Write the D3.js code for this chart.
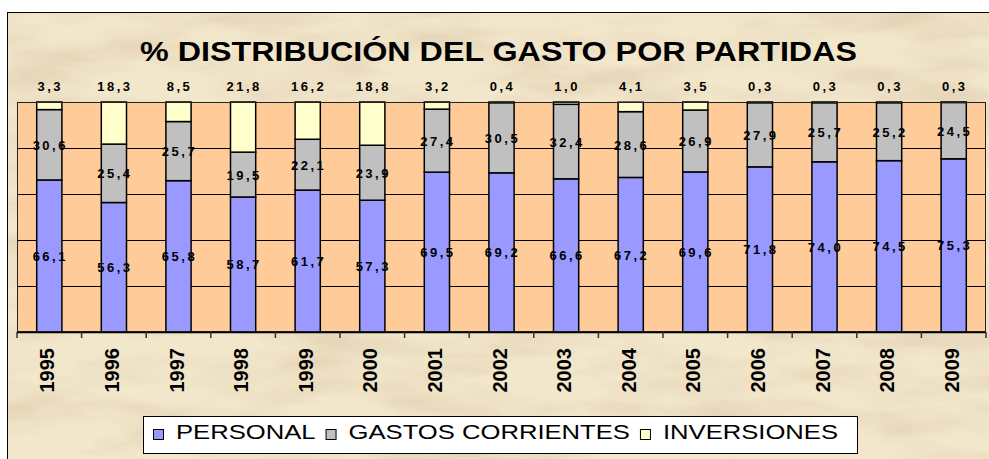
<!DOCTYPE html>
<html>
<head>
<meta charset="utf-8">
<script src="https://cdn.jsdelivr.net/npm/d3@7"></script>
<style>
  body { margin: 0; background: #fff; }
  svg { display: block; }
  text { font-family: Arial, "Liberation Sans", sans-serif; }
</style>
</head>
<body>
<div id="chart"></div>
<script>
const years = ["1995","1996","1997","1998","1999","2000","2001","2002","2003","2004","2005","2006","2007","2008","2009"];
const personal = [66.1, 56.3, 65.8, 58.7, 61.7, 57.3, 69.5, 69.2, 66.6, 67.2, 69.6, 71.8, 74.0, 74.5, 75.3];
const gastos = [30.6, 25.4, 25.7, 19.5, 22.1, 23.9, 27.4, 30.5, 32.4, 28.6, 26.9, 27.9, 25.7, 25.2, 24.5];
const inversiones = [3.3, 18.3, 8.5, 21.8, 16.2, 18.8, 3.2, 0.4, 1.0, 4.1, 3.5, 0.3, 0.3, 0.3, 0.3];
const seriesNames = ["PERSONAL", "GASTOS CORRIENTES", "INVERSIONES"];
const yTicks = [0, 20, 40, 60, 80, 100];

const colors = ["#9999FF", "#C0C0C0", "#FFFFCC"];
const width = 989, height = 459;
const plot = {left: 17, right: 986, top: 102, bottom: 332};
const stretch = 1.22; // the original picture is widened horizontally

function fmt(v) { return d3.format(".1f")(v).replace(".", ","); }

const svg = d3.select("#chart").append("svg")
    .attr("width", width)
    .attr("height", height);

// parchment background
const defs = svg.append("defs");
const filt = defs.append("filter").attr("id", "parch")
    .attr("x", 0).attr("y", 0).attr("width", 1).attr("height", 1);
filt.append("feTurbulence")
    .attr("type", "fractalNoise")
    .attr("baseFrequency", "0.008 0.03")
    .attr("numOctaves", 4)
    .attr("seed", 7);
filt.append("feColorMatrix")
    .attr("type", "matrix")
    .attr("values", "0 0 0 0 0.76  0 0 0 0 0.62  0 0 0 0 0.44  1.8 0 0 0 -0.72");

svg.append("rect")
    .attr("x", 7.5).attr("y", 12.5)
    .attr("width", width + 10).attr("height", height)
    .attr("fill", "#F2E7CB")
    .attr("stroke", "#000").attr("stroke-width", 1);
svg.append("rect")
    .attr("x", 8).attr("y", 13)
    .attr("width", width).attr("height", height)
    .attr("filter", "url(#parch)");

// title
svg.append("text")
    .attr("x", 498.5)
    .attr("y", 61)
    .attr("text-anchor", "middle")
    .attr("font-size", 27)
    .attr("font-weight", "bold")
    .attr("textLength", 717)
    .attr("lengthAdjust", "spacingAndGlyphs")
    .text("% DISTRIBUCIÓN DEL GASTO POR PARTIDAS");

const x = d3.scaleBand()
    .domain(years)
    .range([plot.left, plot.right])
    .padding(0);

const y = d3.scaleLinear()
    .domain([0, 100])
    .range([plot.bottom, plot.top]);

// plot area
svg.append("rect")
    .attr("x", plot.left).attr("y", plot.top)
    .attr("width", plot.right - plot.left)
    .attr("height", plot.bottom - plot.top)
    .attr("fill", "#FFCC99");

// gridlines
svg.append("g")
    .selectAll("line")
    .data(yTicks.slice(1))
    .join("line")
    .attr("x1", plot.left).attr("x2", plot.right)
    .attr("y1", d => Math.round(y(d)) + 0.5)
    .attr("y2", d => Math.round(y(d)) + 0.5)
    .attr("stroke", "#000")
    .attr("stroke-width", 1);

// stacked bars
const rows = years.map((yr, i) => ({year: yr, p: personal[i], g: gastos[i], v: inversiones[i]}));
const stack = d3.stack().keys(["p", "g", "v"]);
const layers = stack(rows);
const barW = x.bandwidth() * 0.39;

svg.append("g")
    .selectAll("g")
    .data(layers)
    .join("g")
    .attr("fill", (d, i) => colors[i])
    .selectAll("rect")
    .data(d => d)
    .join("rect")
    .attr("x", d => x(d.data.year) + (x.bandwidth() - barW) / 2)
    .attr("y", d => y(Math.min(d[1], 100)))
    .attr("width", barW)
    .attr("height", d => Math.max(0, y(d[0]) - y(Math.min(d[1], 100))))
    .attr("stroke", "#000")
    .attr("stroke-width", 1.5);

// plot border
svg.append("rect")
    .attr("x", plot.left + 0.5).attr("y", plot.top + 0.5)
    .attr("width", plot.right - plot.left - 1)
    .attr("height", plot.bottom - plot.top - 1)
    .attr("fill", "none")
    .attr("stroke", "#222")
    .attr("stroke-width", 1);

// x axis: ticks at category boundaries
const xAxis = svg.append("g");
xAxis.append("line")
    .attr("x1", plot.left).attr("x2", plot.right)
    .attr("y1", plot.bottom + 0.5).attr("y2", plot.bottom + 0.5)
    .attr("stroke", "#000").attr("stroke-width", 1.5);
xAxis.selectAll("line.tick")
    .data(years.concat(["end"]))
    .join("line")
    .attr("class", "tick")
    .attr("x1", (d, i) => plot.left + i * x.step())
    .attr("x2", (d, i) => plot.left + i * x.step())
    .attr("y1", plot.bottom)
    .attr("y2", plot.bottom + 6)
    .attr("stroke", "#333")
    .attr("stroke-width", 1.5);
xAxis.selectAll("text")
    .data(years)
    .join("text")
    .attr("transform", d => `translate(${x(d) + x.bandwidth() / 2 + 5},348) rotate(-90)`)
    .attr("text-anchor", "end")
    .attr("font-size", 20)
    .attr("font-weight", "bold")
    .text(d => d);

// data labels
const labels = svg.append("g")
    .attr("font-size", 13)
    .attr("font-weight", "bold")
    .attr("letter-spacing", "2.5px")
    .attr("text-anchor", "middle");

labels.selectAll("text.p")
    .data(layers[0])
    .join("text")
    .attr("class", "p")
    .attr("x", d => x(d.data.year) + x.bandwidth() / 2 + 1)
    .attr("y", d => (y(d[0]) + y(d[1])) / 2 + 5)
    .text(d => fmt(d.data.p));

labels.selectAll("text.g")
    .data(layers[1])
    .join("text")
    .attr("class", "g")
    .attr("x", d => x(d.data.year) + x.bandwidth() / 2 + 1)
    .attr("y", d => (y(d[0]) + y(Math.min(d[1], 100))) / 2 + 5)
    .text(d => fmt(d.data.g));

labels.selectAll("text.v")
    .data(layers[2])
    .join("text")
    .attr("class", "v")
    .attr("x", d => x(d.data.year) + x.bandwidth() / 2 + 1)
    .attr("y", y(100) - 11)
    .text(d => fmt(d.data.v));

// legend
const legend = svg.append("g");
legend.append("rect")
    .attr("x", 143.5).attr("y", 416.5)
    .attr("width", 714).attr("height", 37)
    .attr("fill", "#fff")
    .attr("stroke", "#000")
    .attr("stroke-width", 1);

let lx = 153;
seriesNames.forEach((name, i) => {
  legend.append("rect")
      .attr("x", lx + 0.5).attr("y", 429.5)
      .attr("width", 10).attr("height", 10)
      .attr("fill", colors[i])
      .attr("stroke", "#000")
      .attr("stroke-width", 1);
  const t = legend.append("text")
      .attr("x", lx + 23)
      .attr("y", 439)
      .attr("font-size", 21)
      .text(name);
  const w = t.node().getComputedTextLength() * stretch;
  t.attr("textLength", w).attr("lengthAdjust", "spacingAndGlyphs");
  lx = lx + 23 + w + 10;
});
</script>
</body>
</html>
